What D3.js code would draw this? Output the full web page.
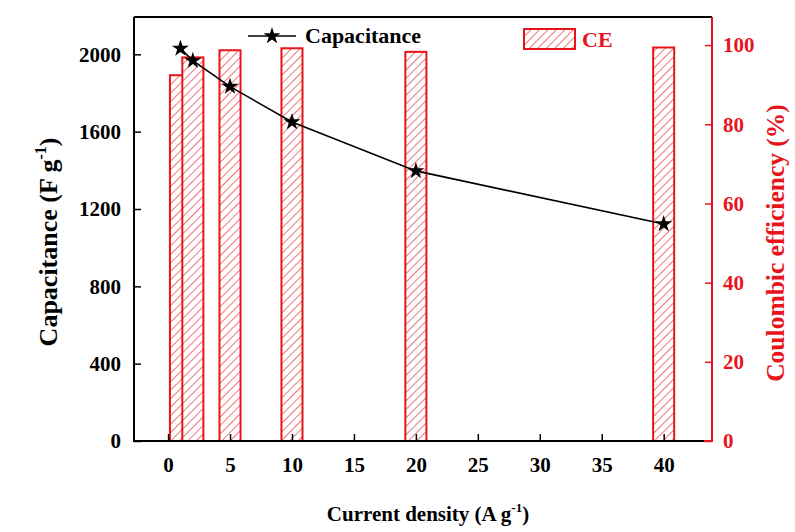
<!DOCTYPE html>
<html><head><meta charset="utf-8">
<script src="https://cdn.jsdelivr.net/npm/d3@7"></script>
<style>body{margin:0;background:#fff}svg{display:block}text{font-family:"Liberation Serif","Times New Roman",serif;font-weight:bold}</style>
</head><body>
<svg id="c" width="795" height="532"></svg>
<script>
const currentDensity = [1, 2, 5, 10, 20, 40];
const capacitance = [2030, 1967, 1833, 1650, 1397, 1122];
const coulombicEff = [92.4, 96.9, 98.7, 99.2, 98.3, 99.4];
const xTicks = [0, 5, 10, 15, 20, 25, 30, 35, 40];
const yLeftTicks = [0, 400, 800, 1200, 1600, 2000];
const yRightTicks = [0, 20, 40, 60, 80, 100];

const svg = d3.select("#c");
const L = 134, R = 712, T = 17, B = 441;
const RED = "#e8141c";
const x = d3.scaleLinear().domain([-2.75, 43.9]).range([L, R]);
const yL = d3.scaleLinear().domain([0, 2193]).range([B, T]);
const yR = d3.scaleLinear().domain([0, 107.1]).range([B, T]);

const defs = svg.append("defs");
const pat = defs.append("pattern").attr("id", "hatch").attr("patternUnits", "userSpaceOnUse")
  .attr("width", 6).attr("height", 6).attr("patternTransform", "rotate(45)");
pat.append("rect").attr("width", 6).attr("height", 6).attr("fill", "#fff");
pat.append("line").attr("x1", 0).attr("y1", 0).attr("x2", 0).attr("y2", 6).attr("stroke", RED).attr("stroke-width", 1.2);

// bars
const bw = x(1.7) - x(0);
svg.append("g").selectAll("rect").data(currentDensity).join("rect")
  .attr("x", (d) => x(d) - bw / 2).attr("width", bw)
  .attr("y", (d, i) => yR(coulombicEff[i])).attr("height", (d, i) => B - yR(coulombicEff[i]))
  .attr("fill", "url(#hatch)").attr("stroke", RED).attr("stroke-width", 2);

// line
const line = d3.line().x((d) => x(d)).y((d, i) => yL(capacitance[i]));
svg.append("path").datum(currentDensity).attr("d", line).attr("fill", "none").attr("stroke", "#000").attr("stroke-width", 1.6);
const star = d3.symbol().type(d3.symbolStar).size(90);
svg.append("g").selectAll("path").data(currentDensity).join("path")
  .attr("d", star).attr("transform", (d, i) => `translate(${x(d)},${yL(capacitance[i])})`).attr("fill", "#000");

// axes frame
svg.append("line").attr("x1", L).attr("x2", R).attr("y1", T).attr("y2", T).attr("stroke", "#000").attr("stroke-width", 2);
svg.append("line").attr("x1", L).attr("x2", R - 8).attr("y1", B).attr("y2", B).attr("stroke", "#000").attr("stroke-width", 2);
svg.append("line").attr("x1", R - 8).attr("x2", R).attr("y1", B).attr("y2", B).attr("stroke", RED).attr("stroke-width", 2);
svg.append("line").attr("x1", L).attr("x2", L).attr("y1", T).attr("y2", B + 1).attr("stroke", "#000").attr("stroke-width", 2);
svg.append("line").attr("x1", R).attr("x2", R).attr("y1", T).attr("y2", B + 1).attr("stroke", RED).attr("stroke-width", 2);

// x axis
const gx = svg.append("g").attr("transform", `translate(0,${B})`);
gx.call(d3.axisBottom(x).tickValues(d3.range(-2.5, 43.9, 2.5)).tickSize(-4).tickFormat(""))
  .call((g) => g.select(".domain").remove());
gx.call(d3.axisBottom(x).tickValues(xTicks).tickSize(-7).tickPadding(16).tickFormat(d3.format("d")))
  .call((g) => g.select(".domain").remove());
gx.selectAll("line").attr("stroke", "#000").attr("stroke-width", 1.5);
gx.selectAll("text").attr("font-size", 21).attr("fill", "#000").attr("font-family", "Liberation Serif");

// left axis
const gl = svg.append("g").attr("transform", `translate(${L},0)`);
gl.call(d3.axisLeft(yL).tickValues(d3.range(200, 2193, 400)).tickSize(-4).tickFormat("")).call((g) => g.select(".domain").remove());
gl.call(d3.axisLeft(yL).tickValues(yLeftTicks).tickSize(-7).tickPadding(13).tickFormat(d3.format("d"))).call((g) => g.select(".domain").remove());
gl.selectAll("line").attr("stroke", "#000").attr("stroke-width", 1.5);
gl.selectAll("text").attr("font-size", 21).attr("fill", "#000").attr("font-family", "Liberation Serif");

// right axis
const gr = svg.append("g").attr("transform", `translate(${R},0)`);
gr.call(d3.axisRight(yR).tickValues(d3.range(10, 107, 20)).tickSize(-4).tickFormat("")).call((g) => g.select(".domain").remove());
gr.call(d3.axisRight(yR).tickValues(yRightTicks).tickSize(-7).tickPadding(11).tickFormat(d3.format("d"))).call((g) => g.select(".domain").remove());
gr.selectAll("line").attr("stroke", RED).attr("stroke-width", 1.5);
gr.selectAll("text").attr("font-size", 21).attr("fill", RED).attr("font-family", "Liberation Serif");

// titles
const xt = svg.append("text").attr("x", 428).attr("y", 521).attr("text-anchor", "middle").attr("font-size", 21);
xt.append("tspan").text("Current density (A g");
xt.append("tspan").text("-1").attr("font-size", 13).attr("dy", -9);
xt.append("tspan").text(")").attr("dy", 9);

const yt = svg.append("text").attr("transform", "translate(57,242) rotate(-90)").attr("text-anchor", "middle").attr("font-size", 26);
yt.append("tspan").text("Capacitance (F g");
yt.append("tspan").text("-1").attr("font-size", 16).attr("dy", -11);
yt.append("tspan").text(")").attr("dy", 11);

svg.append("text").attr("transform", "translate(784,243) rotate(-90)").attr("text-anchor", "middle")
  .attr("font-size", 25.5).attr("fill", RED).text("Coulombic efficiency (%)");

// legend
svg.append("line").attr("x1", 248).attr("x2", 296).attr("y1", 36).attr("y2", 36).attr("stroke", "#000").attr("stroke-width", 1.6);
svg.append("path").attr("d", star).attr("transform", "translate(272,36)").attr("fill", "#000");
svg.append("text").attr("x", 305).attr("y", 43).attr("font-size", 22).text("Capacitance");
svg.append("rect").attr("x", 524).attr("y", 29).attr("width", 51).attr("height", 20).attr("fill", "url(#hatch)").attr("stroke", RED).attr("stroke-width", 2);
svg.append("text").attr("x", 582).attr("y", 47).attr("font-size", 22).attr("fill", RED).text("CE");
</script>
</body></html>
